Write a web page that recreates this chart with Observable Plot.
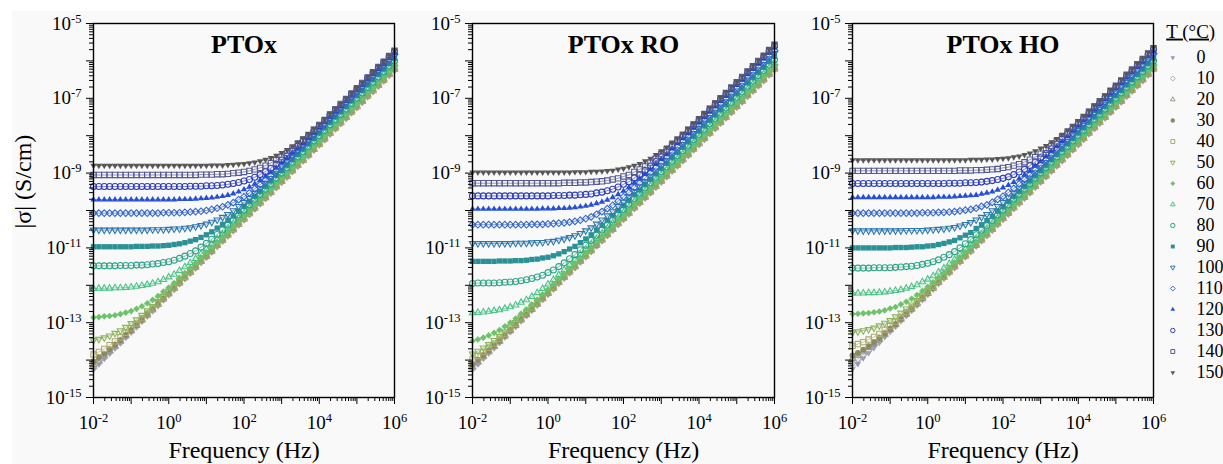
<!DOCTYPE html>
<html><head><meta charset="utf-8">
<script src="https://cdn.jsdelivr.net/npm/d3@7"></script>
<script src="https://cdn.jsdelivr.net/npm/@observablehq/plot@0.6"></script>
<style>
body{margin:0;background:#fff;}
#wrap{position:relative;width:1223px;height:464px;overflow:hidden;font-family:"Liberation Serif",serif;}
#bg{position:absolute;left:12px;top:11px;right:0;bottom:0;background:#f9f9f9;}
#wrap svg{position:absolute;top:0;overflow:visible;}
</style></head><body><div id="wrap"><div id="bg"></div></div>
<script>
// log10 of frequency (Hz)
const logF = [-2,-1.857,-1.714,-1.571,-1.429,-1.286,-1.143,-1,-0.857,-0.714,-0.571,-0.429,-0.286,-0.143,0,0.143,0.286,0.429,0.571,0.714,0.857,1,1.143,1.286,1.429,1.571,1.714,1.857,2,2.143,2.286,2.429,2.571,2.714,2.857,3,3.143,3.286,3.429,3.571,3.714,3.857,4,4.143,4.286,4.429,4.571,4.714,4.857,5,5.143,5.286,5.429,5.571,5.714,5.857,6];
const temps = [0,10,20,30,40,50,60,70,80,90,100,110,120,130,140,150];
const panelTitles = ["PTOx","PTOx RO","PTOx HO"];
const yTickExps = [-15,-14,-13,-12,-11,-10,-9,-8,-7,-6,-5];
const xTickExps = [-2,-1,0,1,2,3,4,5,6];

// log10 |sigma| (S/cm), PTOx
const ptox_0 = [-14.25,-14.11,-13.96,-13.82,-13.68,-13.54,-13.39,-13.25,-13.11,-12.96,-12.82,-12.68,-12.54,-12.39,-12.25,-12.11,-11.96,-11.82,-11.68,-11.54,-11.39,-11.25,-11.11,-10.96,-10.82,-10.68,-10.54,-10.39,-10.25,-10.11,-9.96,-9.82,-9.68,-9.54,-9.39,-9.25,-9.11,-8.96,-8.82,-8.68,-8.54,-8.39,-8.25,-8.11,-7.96,-7.82,-7.68,-7.54,-7.39,-7.25,-7.11,-6.96,-6.82,-6.68,-6.54,-6.39,-6.25];
const ptox_10 = [-14.22,-14.08,-13.94,-13.80,-13.66,-13.53,-13.38,-13.24,-13.10,-12.95,-12.81,-12.67,-12.53,-12.38,-12.24,-12.10,-11.95,-11.81,-11.67,-11.53,-11.38,-11.24,-11.10,-10.95,-10.81,-10.67,-10.53,-10.38,-10.24,-10.10,-9.95,-9.81,-9.67,-9.53,-9.38,-9.24,-9.10,-8.95,-8.81,-8.67,-8.53,-8.38,-8.24,-8.10,-7.95,-7.81,-7.67,-7.53,-7.38,-7.24,-7.10,-6.95,-6.81,-6.67,-6.53,-6.38,-6.24];
const ptox_20 = [-14.13,-14.01,-13.88,-13.76,-13.63,-13.50,-13.35,-13.22,-13.08,-12.93,-12.80,-12.66,-12.52,-12.37,-12.23,-12.09,-11.94,-11.80,-11.66,-11.52,-11.37,-11.23,-11.09,-10.94,-10.80,-10.66,-10.52,-10.37,-10.23,-10.09,-9.94,-9.80,-9.66,-9.52,-9.37,-9.23,-9.09,-8.94,-8.80,-8.66,-8.52,-8.37,-8.23,-8.09,-7.94,-7.80,-7.66,-7.52,-7.37,-7.23,-7.09,-6.94,-6.80,-6.66,-6.52,-6.37,-6.23];
const ptox_30 = [-14.04,-13.94,-13.83,-13.71,-13.59,-13.47,-13.33,-13.20,-13.06,-12.92,-12.78,-12.64,-12.51,-12.36,-12.22,-12.08,-11.93,-11.79,-11.65,-11.51,-11.36,-11.22,-11.08,-10.93,-10.79,-10.65,-10.51,-10.36,-10.22,-10.08,-9.93,-9.79,-9.65,-9.51,-9.36,-9.22,-9.08,-8.93,-8.79,-8.65,-8.51,-8.36,-8.22,-8.08,-7.93,-7.79,-7.65,-7.51,-7.36,-7.22,-7.08,-6.93,-6.79,-6.65,-6.51,-6.36,-6.22];
const ptox_40 = [-13.85,-13.78,-13.70,-13.60,-13.50,-13.39,-13.27,-13.15,-13.02,-12.88,-12.75,-12.62,-12.48,-12.33,-12.19,-12.06,-11.91,-11.77,-11.63,-11.49,-11.34,-11.20,-11.06,-10.91,-10.77,-10.63,-10.49,-10.34,-10.20,-10.06,-9.91,-9.77,-9.63,-9.49,-9.34,-9.20,-9.06,-8.91,-8.77,-8.63,-8.49,-8.34,-8.20,-8.06,-7.91,-7.77,-7.63,-7.49,-7.34,-7.20,-7.06,-6.91,-6.77,-6.63,-6.49,-6.34,-6.20];
const ptox_50 = [-13.47,-13.44,-13.40,-13.35,-13.28,-13.21,-13.12,-13.02,-12.92,-12.80,-12.68,-12.56,-12.43,-12.29,-12.15,-12.02,-11.87,-11.73,-11.60,-11.46,-11.31,-11.17,-11.03,-10.88,-10.74,-10.60,-10.46,-10.31,-10.17,-10.03,-9.88,-9.74,-9.60,-9.46,-9.31,-9.17,-9.03,-8.88,-8.74,-8.60,-8.46,-8.31,-8.17,-8.03,-7.88,-7.74,-7.60,-7.46,-7.31,-7.17,-7.03,-6.88,-6.74,-6.60,-6.46,-6.31,-6.17];
const ptox_60 = [-12.86,-12.85,-12.83,-12.82,-12.80,-12.77,-12.73,-12.69,-12.63,-12.56,-12.48,-12.39,-12.29,-12.17,-12.06,-11.94,-11.80,-11.67,-11.54,-11.41,-11.26,-11.12,-10.98,-10.84,-10.70,-10.56,-10.42,-10.27,-10.13,-9.99,-9.84,-9.70,-9.56,-9.42,-9.27,-9.13,-8.99,-8.84,-8.70,-8.56,-8.42,-8.27,-8.13,-7.99,-7.84,-7.70,-7.56,-7.42,-7.27,-7.13,-6.99,-6.84,-6.70,-6.56,-6.42,-6.27,-6.13];
const ptox_70 = [-12.09,-12.08,-12.08,-12.08,-12.07,-12.07,-12.06,-12.05,-12.03,-12.01,-11.98,-11.95,-11.91,-11.85,-11.78,-11.71,-11.61,-11.51,-11.40,-11.29,-11.16,-11.03,-10.90,-10.76,-10.63,-10.49,-10.35,-10.20,-10.07,-9.93,-9.78,-9.64,-9.50,-9.36,-9.21,-9.07,-8.93,-8.78,-8.64,-8.50,-8.36,-8.21,-8.07,-7.93,-7.78,-7.64,-7.50,-7.36,-7.21,-7.07,-6.93,-6.78,-6.64,-6.50,-6.36,-6.21,-6.07];
const ptox_80 = [-11.48,-11.48,-11.48,-11.48,-11.48,-11.47,-11.47,-11.47,-11.46,-11.46,-11.45,-11.43,-11.42,-11.39,-11.37,-11.33,-11.28,-11.22,-11.15,-11.08,-10.98,-10.88,-10.77,-10.64,-10.52,-10.39,-10.26,-10.12,-9.99,-9.85,-9.70,-9.57,-9.43,-9.29,-9.14,-9.00,-8.86,-8.71,-8.57,-8.43,-8.29,-8.14,-8.00,-7.86,-7.71,-7.57,-7.43,-7.29,-7.14,-7.00,-6.86,-6.71,-6.57,-6.43,-6.29,-6.14,-6.00];
const ptox_90 = [-10.97,-10.97,-10.97,-10.97,-10.97,-10.97,-10.97,-10.97,-10.96,-10.96,-10.96,-10.95,-10.95,-10.94,-10.93,-10.91,-10.89,-10.86,-10.82,-10.78,-10.72,-10.65,-10.57,-10.47,-10.37,-10.26,-10.15,-10.02,-9.89,-9.76,-9.62,-9.49,-9.35,-9.21,-9.06,-8.93,-8.79,-8.64,-8.50,-8.36,-8.22,-8.07,-7.93,-7.79,-7.64,-7.50,-7.36,-7.22,-7.07,-6.93,-6.79,-6.64,-6.50,-6.36,-6.22,-6.07,-5.93];
const ptox_100 = [-10.52,-10.52,-10.52,-10.52,-10.52,-10.52,-10.52,-10.52,-10.52,-10.52,-10.52,-10.51,-10.51,-10.51,-10.50,-10.49,-10.49,-10.47,-10.46,-10.43,-10.40,-10.36,-10.31,-10.25,-10.18,-10.10,-10.00,-9.89,-9.78,-9.67,-9.53,-9.41,-9.27,-9.14,-9.00,-8.86,-8.72,-8.58,-8.44,-8.30,-8.16,-8.01,-7.87,-7.73,-7.58,-7.44,-7.30,-7.16,-7.01,-6.87,-6.73,-6.58,-6.44,-6.30,-6.16,-6.01,-5.87];
const ptox_110 = [-10.07,-10.07,-10.07,-10.07,-10.07,-10.07,-10.07,-10.07,-10.07,-10.07,-10.07,-10.07,-10.07,-10.06,-10.06,-10.06,-10.06,-10.05,-10.04,-10.03,-10.02,-10.00,-9.97,-9.94,-9.90,-9.85,-9.79,-9.71,-9.63,-9.53,-9.42,-9.31,-9.19,-9.07,-8.93,-8.80,-8.66,-8.52,-8.38,-8.24,-8.11,-7.96,-7.82,-7.68,-7.53,-7.39,-7.25,-7.11,-6.96,-6.82,-6.68,-6.53,-6.39,-6.25,-6.11,-5.96,-5.82];
const ptox_120 = [-9.71,-9.71,-9.71,-9.71,-9.71,-9.71,-9.71,-9.71,-9.71,-9.71,-9.71,-9.71,-9.71,-9.71,-9.71,-9.71,-9.70,-9.70,-9.70,-9.69,-9.68,-9.67,-9.66,-9.64,-9.62,-9.59,-9.55,-9.50,-9.44,-9.37,-9.29,-9.19,-9.09,-8.98,-8.86,-8.73,-8.60,-8.46,-8.33,-8.20,-8.06,-7.91,-7.78,-7.64,-7.49,-7.35,-7.21,-7.07,-6.92,-6.78,-6.64,-6.49,-6.35,-6.21,-6.07,-5.92,-5.78];
const ptox_130 = [-9.36,-9.36,-9.36,-9.36,-9.36,-9.36,-9.36,-9.36,-9.36,-9.36,-9.36,-9.36,-9.36,-9.36,-9.36,-9.36,-9.36,-9.36,-9.35,-9.35,-9.35,-9.34,-9.34,-9.33,-9.32,-9.30,-9.28,-9.25,-9.21,-9.17,-9.11,-9.04,-8.96,-8.87,-8.76,-8.65,-8.54,-8.41,-8.28,-8.15,-8.02,-7.88,-7.74,-7.60,-7.45,-7.32,-7.18,-7.04,-6.89,-6.75,-6.61,-6.46,-6.32,-6.18,-6.04,-5.89,-5.75];
const ptox_140 = [-9.05,-9.05,-9.05,-9.05,-9.05,-9.05,-9.05,-9.05,-9.05,-9.05,-9.05,-9.05,-9.05,-9.05,-9.05,-9.05,-9.05,-9.05,-9.05,-9.05,-9.04,-9.04,-9.04,-9.03,-9.03,-9.02,-9.00,-8.99,-8.97,-8.94,-8.90,-8.86,-8.80,-8.73,-8.65,-8.56,-8.46,-8.34,-8.23,-8.11,-7.98,-7.84,-7.71,-7.58,-7.43,-7.29,-7.15,-7.02,-6.87,-6.73,-6.59,-6.44,-6.30,-6.16,-6.02,-5.87,-5.73];
const ptox_150 = [-8.80,-8.80,-8.80,-8.80,-8.80,-8.80,-8.80,-8.80,-8.80,-8.80,-8.80,-8.80,-8.80,-8.80,-8.80,-8.80,-8.80,-8.80,-8.80,-8.80,-8.80,-8.80,-8.79,-8.79,-8.79,-8.78,-8.77,-8.76,-8.75,-8.73,-8.71,-8.68,-8.64,-8.59,-8.53,-8.46,-8.38,-8.28,-8.17,-8.06,-7.95,-7.81,-7.69,-7.55,-7.41,-7.28,-7.14,-7.00,-6.86,-6.72,-6.58,-6.43,-6.29,-6.15,-6.01,-5.86,-5.72];

// log10 |sigma| (S/cm), PTOx RO
const ro_0 = [-14.24,-14.10,-13.95,-13.81,-13.67,-13.53,-13.38,-13.24,-13.10,-12.95,-12.81,-12.67,-12.53,-12.38,-12.24,-12.10,-11.95,-11.81,-11.67,-11.53,-11.38,-11.24,-11.10,-10.95,-10.81,-10.67,-10.53,-10.38,-10.24,-10.10,-9.95,-9.81,-9.67,-9.53,-9.38,-9.24,-9.10,-8.95,-8.81,-8.67,-8.53,-8.38,-8.24,-8.10,-7.95,-7.81,-7.67,-7.53,-7.38,-7.24,-7.10,-6.95,-6.81,-6.67,-6.53,-6.38,-6.24];
const ro_10 = [-14.23,-14.09,-13.94,-13.80,-13.66,-13.52,-13.37,-13.23,-13.09,-12.94,-12.80,-12.66,-12.52,-12.37,-12.23,-12.09,-11.94,-11.80,-11.66,-11.52,-11.37,-11.23,-11.09,-10.94,-10.80,-10.66,-10.52,-10.37,-10.23,-10.09,-9.94,-9.80,-9.66,-9.52,-9.37,-9.23,-9.09,-8.94,-8.80,-8.66,-8.52,-8.37,-8.23,-8.09,-7.94,-7.80,-7.66,-7.52,-7.37,-7.23,-7.09,-6.94,-6.80,-6.66,-6.52,-6.37,-6.23];
const ro_20 = [-14.19,-14.05,-13.91,-13.78,-13.64,-13.50,-13.36,-13.22,-13.08,-12.93,-12.79,-12.65,-12.51,-12.36,-12.22,-12.08,-11.93,-11.79,-11.65,-11.51,-11.36,-11.22,-11.08,-10.93,-10.79,-10.65,-10.51,-10.36,-10.22,-10.08,-9.93,-9.79,-9.65,-9.51,-9.36,-9.22,-9.08,-8.93,-8.79,-8.65,-8.51,-8.36,-8.22,-8.08,-7.93,-7.79,-7.65,-7.51,-7.36,-7.22,-7.08,-6.93,-6.79,-6.65,-6.51,-6.36,-6.22];
const ro_30 = [-14.11,-13.99,-13.87,-13.74,-13.61,-13.48,-13.34,-13.20,-13.06,-12.91,-12.78,-12.64,-12.50,-12.35,-12.21,-12.07,-11.92,-11.78,-11.64,-11.50,-11.35,-11.21,-11.07,-10.92,-10.78,-10.64,-10.50,-10.35,-10.21,-10.07,-9.92,-9.78,-9.64,-9.50,-9.35,-9.21,-9.07,-8.92,-8.78,-8.64,-8.50,-8.35,-8.21,-8.07,-7.92,-7.78,-7.64,-7.50,-7.35,-7.21,-7.07,-6.92,-6.78,-6.64,-6.50,-6.35,-6.21];
const ro_40 = [-13.98,-13.89,-13.78,-13.67,-13.56,-13.43,-13.30,-13.16,-13.03,-12.89,-12.75,-12.61,-12.48,-12.33,-12.19,-12.05,-11.90,-11.76,-11.62,-11.48,-11.33,-11.19,-11.05,-10.90,-10.76,-10.62,-10.48,-10.33,-10.19,-10.05,-9.90,-9.76,-9.62,-9.48,-9.33,-9.19,-9.05,-8.90,-8.76,-8.62,-8.48,-8.33,-8.19,-8.05,-7.90,-7.76,-7.62,-7.48,-7.33,-7.19,-7.05,-6.90,-6.76,-6.62,-6.48,-6.33,-6.19];
const ro_50 = [-13.83,-13.76,-13.67,-13.58,-13.47,-13.36,-13.24,-13.11,-12.99,-12.85,-12.71,-12.58,-12.44,-12.29,-12.16,-12.02,-11.87,-11.73,-11.59,-11.45,-11.30,-11.16,-11.02,-10.87,-10.73,-10.59,-10.45,-10.30,-10.16,-10.02,-9.87,-9.73,-9.59,-9.45,-9.30,-9.16,-9.02,-8.87,-8.73,-8.59,-8.45,-8.30,-8.16,-8.02,-7.87,-7.73,-7.59,-7.45,-7.30,-7.16,-7.02,-6.87,-6.73,-6.59,-6.45,-6.30,-6.16];
const ro_60 = [-13.49,-13.45,-13.40,-13.34,-13.27,-13.20,-13.10,-13.00,-12.89,-12.76,-12.64,-12.51,-12.38,-12.24,-12.11,-11.97,-11.82,-11.69,-11.55,-11.41,-11.26,-11.12,-10.98,-10.83,-10.69,-10.55,-10.41,-10.26,-10.12,-9.98,-9.83,-9.69,-9.55,-9.41,-9.26,-9.12,-8.98,-8.83,-8.69,-8.55,-8.41,-8.26,-8.12,-7.98,-7.83,-7.69,-7.55,-7.41,-7.26,-7.12,-6.98,-6.83,-6.69,-6.55,-6.41,-6.26,-6.12];
const ro_70 = [-12.74,-12.73,-12.72,-12.70,-12.68,-12.66,-12.62,-12.58,-12.53,-12.46,-12.39,-12.30,-12.20,-12.09,-11.97,-11.85,-11.72,-11.59,-11.46,-11.32,-11.18,-11.04,-10.90,-10.76,-10.62,-10.48,-10.34,-10.19,-10.05,-9.91,-9.76,-9.62,-9.48,-9.34,-9.19,-9.05,-8.91,-8.76,-8.62,-8.48,-8.34,-8.19,-8.05,-7.91,-7.76,-7.62,-7.48,-7.34,-7.19,-7.05,-6.91,-6.76,-6.62,-6.48,-6.34,-6.19,-6.05];
const ro_80 = [-11.95,-11.94,-11.94,-11.94,-11.94,-11.93,-11.92,-11.91,-11.90,-11.88,-11.85,-11.82,-11.78,-11.73,-11.66,-11.59,-11.50,-11.40,-11.29,-11.18,-11.05,-10.93,-10.80,-10.66,-10.52,-10.39,-10.25,-10.10,-9.97,-9.83,-9.68,-9.54,-9.40,-9.26,-9.11,-8.97,-8.83,-8.68,-8.54,-8.40,-8.26,-8.11,-7.97,-7.83,-7.68,-7.54,-7.40,-7.26,-7.11,-6.97,-6.83,-6.68,-6.54,-6.40,-6.26,-6.11,-5.97];
const ro_90 = [-11.36,-11.36,-11.36,-11.36,-11.36,-11.35,-11.35,-11.35,-11.34,-11.34,-11.33,-11.31,-11.30,-11.27,-11.25,-11.21,-11.16,-11.10,-11.03,-10.96,-10.86,-10.76,-10.65,-10.52,-10.40,-10.27,-10.14,-10.00,-9.87,-9.73,-9.58,-9.45,-9.31,-9.17,-9.02,-8.88,-8.74,-8.59,-8.45,-8.31,-8.17,-8.02,-7.88,-7.74,-7.59,-7.45,-7.31,-7.17,-7.02,-6.88,-6.74,-6.59,-6.45,-6.31,-6.17,-6.02,-5.88];
const ro_100 = [-10.88,-10.88,-10.88,-10.88,-10.88,-10.88,-10.88,-10.88,-10.87,-10.87,-10.87,-10.86,-10.85,-10.85,-10.83,-10.82,-10.79,-10.76,-10.72,-10.67,-10.61,-10.54,-10.46,-10.36,-10.25,-10.14,-10.03,-9.89,-9.77,-9.63,-9.49,-9.36,-9.22,-9.08,-8.94,-8.80,-8.66,-8.51,-8.37,-8.23,-8.09,-7.94,-7.80,-7.66,-7.51,-7.37,-7.23,-7.09,-6.94,-6.80,-6.66,-6.51,-6.37,-6.23,-6.09,-5.94,-5.80];
const ro_110 = [-10.38,-10.38,-10.38,-10.38,-10.38,-10.38,-10.38,-10.38,-10.38,-10.38,-10.38,-10.37,-10.37,-10.37,-10.36,-10.35,-10.34,-10.33,-10.31,-10.29,-10.26,-10.22,-10.17,-10.10,-10.03,-9.95,-9.86,-9.75,-9.63,-9.52,-9.39,-9.26,-9.13,-8.99,-8.85,-8.71,-8.57,-8.43,-8.29,-8.15,-8.01,-7.86,-7.72,-7.58,-7.43,-7.29,-7.15,-7.01,-6.86,-6.72,-6.58,-6.43,-6.29,-6.15,-6.01,-5.86,-5.72];
const ro_120 = [-9.96,-9.96,-9.96,-9.96,-9.96,-9.96,-9.96,-9.96,-9.96,-9.96,-9.96,-9.96,-9.96,-9.95,-9.95,-9.95,-9.94,-9.94,-9.93,-9.92,-9.90,-9.88,-9.85,-9.81,-9.77,-9.72,-9.65,-9.57,-9.48,-9.38,-9.26,-9.15,-9.03,-8.90,-8.76,-8.63,-8.50,-8.35,-8.21,-8.07,-7.94,-7.79,-7.65,-7.51,-7.36,-7.22,-7.08,-6.94,-6.79,-6.65,-6.51,-6.36,-6.22,-6.08,-5.94,-5.79,-5.65];
const ro_130 = [-9.61,-9.61,-9.61,-9.61,-9.61,-9.61,-9.61,-9.61,-9.61,-9.61,-9.61,-9.61,-9.61,-9.61,-9.61,-9.60,-9.60,-9.60,-9.59,-9.59,-9.58,-9.57,-9.56,-9.53,-9.51,-9.47,-9.43,-9.37,-9.30,-9.23,-9.13,-9.04,-8.93,-8.81,-8.69,-8.56,-8.43,-8.29,-8.15,-8.02,-7.88,-7.73,-7.60,-7.46,-7.31,-7.17,-7.03,-6.89,-6.74,-6.60,-6.46,-6.31,-6.17,-6.03,-5.89,-5.74,-5.60];
const ro_140 = [-9.27,-9.27,-9.27,-9.27,-9.27,-9.27,-9.27,-9.27,-9.27,-9.27,-9.27,-9.27,-9.27,-9.27,-9.27,-9.27,-9.27,-9.26,-9.26,-9.26,-9.25,-9.25,-9.24,-9.23,-9.22,-9.20,-9.17,-9.14,-9.09,-9.05,-8.97,-8.90,-8.82,-8.72,-8.61,-8.49,-8.37,-8.24,-8.11,-7.98,-7.84,-7.70,-7.56,-7.42,-7.28,-7.14,-7.00,-6.86,-6.71,-6.57,-6.43,-6.28,-6.14,-6.00,-5.86,-5.71,-5.57];
const ro_150 = [-8.98,-8.98,-8.98,-8.98,-8.98,-8.98,-8.98,-8.98,-8.98,-8.98,-8.98,-8.98,-8.98,-8.98,-8.98,-8.98,-8.98,-8.98,-8.98,-8.97,-8.97,-8.97,-8.96,-8.96,-8.95,-8.94,-8.93,-8.90,-8.88,-8.84,-8.80,-8.75,-8.68,-8.61,-8.51,-8.41,-8.31,-8.18,-8.07,-7.94,-7.81,-7.67,-7.53,-7.40,-7.25,-7.11,-6.98,-6.84,-6.69,-6.55,-6.41,-6.26,-6.12,-5.98,-5.84,-5.69,-5.55];

// log10 |sigma| (S/cm), PTOx HO
const ho_0 = [-14.24,-14.10,-13.95,-13.81,-13.67,-13.53,-13.38,-13.24,-13.10,-12.95,-12.81,-12.67,-12.53,-12.38,-12.24,-12.10,-11.95,-11.81,-11.67,-11.53,-11.38,-11.24,-11.10,-10.95,-10.81,-10.67,-10.53,-10.38,-10.24,-10.10,-9.95,-9.81,-9.67,-9.53,-9.38,-9.24,-9.10,-8.95,-8.81,-8.67,-8.53,-8.38,-8.24,-8.10,-7.95,-7.81,-7.67,-7.53,-7.38,-7.24,-7.10,-6.95,-6.81,-6.67,-6.53,-6.38,-6.24];
const ho_10 = [-14.08,-13.97,-13.85,-13.74,-13.61,-13.49,-13.35,-13.21,-13.08,-12.93,-12.79,-12.66,-12.52,-12.37,-12.23,-12.09,-11.94,-11.80,-11.66,-11.52,-11.37,-11.23,-11.09,-10.94,-10.80,-10.66,-10.52,-10.37,-10.23,-10.09,-9.94,-9.80,-9.66,-9.52,-9.37,-9.23,-9.09,-8.94,-8.80,-8.66,-8.52,-8.37,-8.23,-8.09,-7.94,-7.80,-7.66,-7.52,-7.37,-7.23,-7.09,-6.94,-6.80,-6.66,-6.52,-6.37,-6.23];
const ho_20 = [-13.96,-13.88,-13.78,-13.67,-13.56,-13.45,-13.31,-13.19,-13.05,-12.91,-12.78,-12.64,-12.50,-12.36,-12.22,-12.08,-11.93,-11.79,-11.65,-11.51,-11.36,-11.22,-11.08,-10.93,-10.79,-10.65,-10.51,-10.36,-10.22,-10.08,-9.93,-9.79,-9.65,-9.51,-9.36,-9.22,-9.08,-8.93,-8.79,-8.65,-8.51,-8.36,-8.22,-8.08,-7.93,-7.79,-7.65,-7.51,-7.36,-7.22,-7.08,-6.93,-6.79,-6.65,-6.51,-6.36,-6.22];
const ho_30 = [-13.88,-13.81,-13.72,-13.63,-13.52,-13.41,-13.29,-13.16,-13.04,-12.90,-12.76,-12.63,-12.49,-12.34,-12.21,-12.07,-11.92,-11.78,-11.64,-11.50,-11.35,-11.21,-11.07,-10.92,-10.78,-10.64,-10.50,-10.35,-10.21,-10.07,-9.92,-9.78,-9.64,-9.50,-9.35,-9.21,-9.07,-8.92,-8.78,-8.64,-8.50,-8.35,-8.21,-8.07,-7.92,-7.78,-7.64,-7.50,-7.35,-7.21,-7.07,-6.92,-6.78,-6.64,-6.50,-6.35,-6.21];
const ho_40 = [-13.62,-13.57,-13.52,-13.45,-13.38,-13.30,-13.19,-13.09,-12.97,-12.85,-12.72,-12.59,-12.46,-12.31,-12.18,-12.04,-11.89,-11.76,-11.62,-11.48,-11.33,-11.19,-11.05,-10.90,-10.76,-10.62,-10.48,-10.33,-10.19,-10.05,-9.90,-9.76,-9.62,-9.48,-9.33,-9.19,-9.05,-8.90,-8.76,-8.62,-8.48,-8.33,-8.19,-8.05,-7.90,-7.76,-7.62,-7.48,-7.33,-7.19,-7.05,-6.90,-6.76,-6.62,-6.48,-6.33,-6.19];
const ho_50 = [-13.26,-13.24,-13.21,-13.18,-13.14,-13.08,-13.01,-12.94,-12.84,-12.74,-12.63,-12.52,-12.40,-12.26,-12.13,-12.00,-11.86,-11.72,-11.58,-11.44,-11.30,-11.16,-11.02,-10.87,-10.73,-10.59,-10.45,-10.30,-10.16,-10.02,-9.87,-9.73,-9.59,-9.45,-9.30,-9.16,-9.02,-8.87,-8.73,-8.59,-8.45,-8.30,-8.16,-8.02,-7.87,-7.73,-7.59,-7.45,-7.30,-7.16,-7.02,-6.87,-6.73,-6.59,-6.45,-6.30,-6.16];
const ho_60 = [-12.77,-12.76,-12.75,-12.74,-12.72,-12.70,-12.67,-12.62,-12.58,-12.51,-12.44,-12.36,-12.26,-12.15,-12.04,-11.92,-11.79,-11.66,-11.53,-11.39,-11.25,-11.11,-10.97,-10.83,-10.69,-10.55,-10.41,-10.26,-10.12,-9.98,-9.83,-9.69,-9.55,-9.41,-9.26,-9.12,-8.98,-8.83,-8.69,-8.55,-8.41,-8.26,-8.12,-7.98,-7.83,-7.69,-7.55,-7.41,-7.26,-7.12,-6.98,-6.83,-6.69,-6.55,-6.41,-6.26,-6.12];
const ho_70 = [-12.21,-12.21,-12.21,-12.20,-12.20,-12.19,-12.18,-12.16,-12.14,-12.12,-12.08,-12.04,-11.99,-11.91,-11.84,-11.75,-11.65,-11.54,-11.42,-11.31,-11.17,-11.04,-10.91,-10.76,-10.63,-10.49,-10.35,-10.21,-10.07,-9.93,-9.78,-9.64,-9.50,-9.36,-9.21,-9.07,-8.93,-8.78,-8.64,-8.50,-8.36,-8.21,-8.07,-7.93,-7.78,-7.64,-7.50,-7.36,-7.21,-7.07,-6.93,-6.78,-6.64,-6.50,-6.36,-6.21,-6.07];
const ho_80 = [-11.54,-11.54,-11.54,-11.54,-11.53,-11.53,-11.53,-11.53,-11.52,-11.51,-11.50,-11.49,-11.47,-11.44,-11.41,-11.37,-11.32,-11.25,-11.18,-11.10,-11.00,-10.89,-10.78,-10.65,-10.53,-10.40,-10.27,-10.12,-9.99,-9.85,-9.70,-9.57,-9.43,-9.29,-9.14,-9.00,-8.86,-8.71,-8.57,-8.43,-8.29,-8.14,-8.00,-7.86,-7.71,-7.57,-7.43,-7.29,-7.14,-7.00,-6.86,-6.71,-6.57,-6.43,-6.29,-6.14,-6.00];
const ho_90 = [-11.00,-11.00,-11.00,-11.00,-11.00,-11.00,-11.00,-11.00,-10.99,-10.99,-10.99,-10.98,-10.97,-10.97,-10.95,-10.94,-10.91,-10.88,-10.84,-10.80,-10.73,-10.66,-10.59,-10.48,-10.38,-10.27,-10.16,-10.02,-9.90,-9.76,-9.62,-9.49,-9.35,-9.21,-9.07,-8.93,-8.79,-8.64,-8.50,-8.36,-8.22,-8.07,-7.93,-7.79,-7.64,-7.50,-7.36,-7.22,-7.07,-6.93,-6.79,-6.64,-6.50,-6.36,-6.22,-6.07,-5.93];
const ho_100 = [-10.54,-10.54,-10.54,-10.54,-10.54,-10.54,-10.54,-10.54,-10.54,-10.54,-10.53,-10.53,-10.53,-10.53,-10.52,-10.51,-10.50,-10.49,-10.47,-10.45,-10.41,-10.37,-10.32,-10.25,-10.18,-10.10,-10.00,-9.89,-9.78,-9.66,-9.53,-9.40,-9.27,-9.13,-8.99,-8.85,-8.71,-8.57,-8.43,-8.29,-8.15,-8.00,-7.86,-7.72,-7.57,-7.43,-7.29,-7.15,-7.00,-6.86,-6.72,-6.57,-6.43,-6.29,-6.15,-6.00,-5.86];
const ho_110 = [-10.07,-10.07,-10.07,-10.07,-10.07,-10.07,-10.07,-10.07,-10.07,-10.07,-10.07,-10.07,-10.07,-10.06,-10.06,-10.06,-10.05,-10.05,-10.04,-10.03,-10.01,-9.99,-9.97,-9.94,-9.89,-9.85,-9.78,-9.70,-9.62,-9.52,-9.41,-9.29,-9.17,-9.05,-8.91,-8.78,-8.64,-8.50,-8.36,-8.22,-8.09,-7.94,-7.80,-7.66,-7.51,-7.37,-7.23,-7.09,-6.94,-6.80,-6.66,-6.51,-6.37,-6.23,-6.09,-5.94,-5.80];
const ho_120 = [-9.65,-9.65,-9.65,-9.65,-9.65,-9.65,-9.65,-9.65,-9.65,-9.65,-9.65,-9.65,-9.65,-9.65,-9.65,-9.65,-9.64,-9.64,-9.64,-9.63,-9.62,-9.61,-9.60,-9.59,-9.56,-9.53,-9.50,-9.45,-9.39,-9.32,-9.24,-9.15,-9.05,-8.94,-8.81,-8.69,-8.56,-8.42,-8.29,-8.16,-8.02,-7.87,-7.74,-7.60,-7.45,-7.31,-7.17,-7.03,-6.88,-6.74,-6.60,-6.45,-6.31,-6.17,-6.03,-5.88,-5.74];
const ho_130 = [-9.28,-9.28,-9.28,-9.28,-9.28,-9.28,-9.28,-9.28,-9.28,-9.28,-9.28,-9.28,-9.28,-9.28,-9.28,-9.28,-9.28,-9.28,-9.27,-9.27,-9.27,-9.26,-9.26,-9.25,-9.24,-9.22,-9.20,-9.17,-9.14,-9.10,-9.04,-8.97,-8.90,-8.80,-8.70,-8.59,-8.48,-8.35,-8.22,-8.09,-7.96,-7.82,-7.68,-7.54,-7.39,-7.26,-7.12,-6.98,-6.83,-6.69,-6.55,-6.40,-6.26,-6.12,-5.98,-5.83,-5.69];
const ho_140 = [-8.94,-8.94,-8.94,-8.94,-8.94,-8.94,-8.94,-8.94,-8.94,-8.94,-8.94,-8.94,-8.94,-8.94,-8.94,-8.94,-8.94,-8.94,-8.94,-8.94,-8.93,-8.93,-8.93,-8.92,-8.92,-8.91,-8.90,-8.89,-8.86,-8.84,-8.80,-8.76,-8.71,-8.64,-8.57,-8.48,-8.38,-8.27,-8.15,-8.03,-7.91,-7.77,-7.64,-7.50,-7.36,-7.22,-7.08,-6.95,-6.80,-6.66,-6.52,-6.37,-6.23,-6.09,-5.95,-5.80,-5.66];
const ho_150 = [-8.65,-8.65,-8.65,-8.65,-8.65,-8.65,-8.65,-8.65,-8.65,-8.65,-8.65,-8.65,-8.65,-8.65,-8.65,-8.65,-8.65,-8.65,-8.65,-8.65,-8.65,-8.65,-8.64,-8.64,-8.64,-8.63,-8.63,-8.62,-8.61,-8.60,-8.57,-8.55,-8.51,-8.47,-8.41,-8.34,-8.27,-8.17,-8.08,-7.97,-7.85,-7.73,-7.60,-7.47,-7.33,-7.19,-7.06,-6.92,-6.77,-6.64,-6.50,-6.35,-6.21,-6.07,-5.93,-5.78,-5.64];

const panelSeries = [
  [ptox_0,ptox_10,ptox_20,ptox_30,ptox_40,ptox_50,ptox_60,ptox_70,ptox_80,ptox_90,ptox_100,ptox_110,ptox_120,ptox_130,ptox_140,ptox_150],
  [ro_0,ro_10,ro_20,ro_30,ro_40,ro_50,ro_60,ro_70,ro_80,ro_90,ro_100,ro_110,ro_120,ro_130,ro_140,ro_150],
  [ho_0,ho_10,ho_20,ho_30,ho_40,ho_50,ho_60,ho_70,ho_80,ho_90,ho_100,ho_110,ho_120,ho_130,ho_140,ho_150]
];

// styles
const colors = ["#9595c2","#a8a8a8","#9c9c88","#8a8962","#abab6c","#8bb45c","#6fc26c","#4cc387","#2ea587","#2a9196","#2e77ad","#3465c8","#2550d4","#2e3eb8","#555a92","#575757"];
const triDown = {draw(ctx, size){const s=Math.sqrt(size)*0.6824,t=s/2,u=s*Math.sqrt(3)/2;ctx.moveTo(0,s);ctx.lineTo(u,-t);ctx.lineTo(-u,-t);ctx.closePath();}};
const shapeCycle = [triDown,"diamond2","triangle2","circle","square"];
const symbolOf = k => shapeCycle[k % 5];
const filledOf = k => k % 3 === 0;

const layout = [
  {left:0, width:410, mL:93, mR:16},
  {left:380, width:410, mL:92, mR:16},
  {left:760, width:410, mL:92, mR:17}
];
const FONT = "'Liberation Serif','Times New Roman',serif";

function supify(svg){
  d3.select(svg).selectAll("text").attr("font-family", FONT).each(function(){
    const t = this.textContent;
    const m = /^10\^(-?\d+)$/.exec(t);
    if(!m) return;
    const el = d3.select(this);
    el.text("");
    el.append("tspan").text("10");
    el.append("tspan").attr("dy","-7").attr("font-size","12.5").text(m[1]);
  });
}

const wrap = document.getElementById("wrap");
const yMaj = yTickExps.map(e => 10 ** e);
const xMaj = xTickExps.map(e => 10 ** e);
const yMin = [], xMin = [];
for (const e of yTickExps.slice(0,-1)) for (let m = 2; m <= 9; m++) yMin.push(m * 10 ** e);
for (const e of xTickExps.slice(0,-1)) for (let m = 2; m <= 9; m++) xMin.push(m * 10 ** e);
const fmtY = d => { const e = Math.round(Math.log10(d)); return Math.abs(e) % 2 === 1 ? "10^" + e : ""; };
const fmtX = d => { const e = Math.round(Math.log10(d)); return e % 2 === 0 ? "10^" + e : ""; };

panelSeries.forEach((series, p) => {
  const L = layout[p];
  const tables = series.map((vals, k) => vals.slice(0, logF.length).map((v, i) => ({f: 10 ** logF[i], s: 10 ** v, T: temps[k]})));
  const marks = [];
  tables.forEach((tb, k) => marks.push(Plot.line(tb, {x: "f", y: "s", stroke: colors[k], strokeWidth: 0.9, strokeOpacity: 0.7})));
  tables.forEach((tb, k) => {
    const f = filledOf(k);
    marks.push(Plot.dot(tb, {x: "f", y: "s", r: 3, symbol: symbolOf(k), fill: f ? colors[k] : "none", stroke: f ? "none" : colors[k], strokeWidth: 1.1}));
  });
  marks.push(
    Plot.axisY(yMin, {tickSize: 4, tickFormat: () => "", label: null, strokeWidth: 1}),
    Plot.axisY(yMaj, {tickSize: 7, tickPadding: 5, tickFormat: fmtY, fontSize: 19, label: null, strokeWidth: 1}),
    Plot.axisX(xMin, {tickSize: 4, tickFormat: () => "", label: null, strokeWidth: 1}),
    Plot.axisX(xMaj, {tickSize: 7, tickPadding: 11, tickFormat: fmtX, fontSize: 19, label: null, strokeWidth: 1}),
    Plot.frame({stroke: "black", strokeWidth: 1.4}),
    Plot.text([panelTitles[p]], {text: d => d, frameAnchor: "top", dy: 21, lineAnchor: "middle", fontSize: 26, fontWeight: "bold"}),
    Plot.text(["Frequency (Hz)"], {text: d => d, frameAnchor: "bottom", dy: 53, lineAnchor: "middle", fontSize: 24})
  );
  if (p === 0) marks.push(Plot.text(["|σ| (S/cm)"], {text: d => d, frameAnchor: "left", dx: -70, dy: 18, rotate: -90, lineAnchor: "middle", fontSize: 24}));
  const svg = Plot.plot({
    width: L.width, height: 464,
    marginLeft: L.mL, marginRight: L.mR, marginTop: 23, marginBottom: 67,
    x: {type: "log", domain: [1e-2, 1e6]},
    y: {type: "log", domain: [1e-15, 1e-5]},
    style: {fontFamily: FONT, fontSize: "19px", background: "transparent", color: "black", overflow: "visible"},
    marks
  });
  supify(svg);
  svg.style.left = L.left + "px";
  wrap.appendChild(svg);
});

// legend
const legendMarks = [];
temps.forEach((t, k) => {
  const f = filledOf(k);
  legendMarks.push(Plot.dot([t], {x: () => 12.3, y: d => d, r: 2.2, symbol: symbolOf(k), fill: f ? colors[k] : "none", stroke: f ? "none" : colors[k], strokeWidth: 1}));
});
legendMarks.push(
  Plot.text(temps, {x: () => 36, y: d => d, text: d => String(d), textAnchor: "start", fontSize: 18}),
  Plot.text(["T (°C)"], {text: d => d, frameAnchor: "top-left", dx: 5.7, dy: 31, textAnchor: "start", lineAnchor: "middle", fontSize: 19})
);
const leg = Plot.plot({
  width: 63, height: 464, margin: 0,
  x: {domain: [0, 63], range: [0, 63], axis: null},
  y: {type: "point", domain: temps, range: [52.7, 376.7], padding: 0, axis: null},
  style: {fontFamily: FONT, background: "transparent", color: "black"},
  marks: legendMarks
});
d3.select(leg).selectAll("text").attr("font-family", FONT).filter(function(){ return this.textContent === "T (°C)"; }).attr("text-decoration", "underline");
leg.style.left = "1160px";
leg.style.overflow = "hidden";
wrap.appendChild(leg);
</script>
</body></html>
